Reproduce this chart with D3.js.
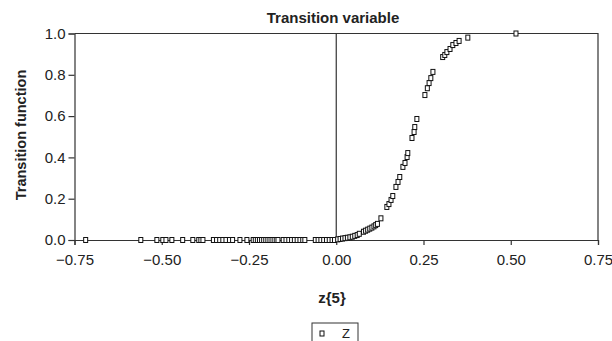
<!DOCTYPE html>
<html>
<head>
<meta charset="utf-8">
<script src="https://cdn.jsdelivr.net/npm/d3@7"></script>
<style>
  body { margin: 0; background: #fff; }
  svg text { font-family: "Liberation Sans", Arial, Helvetica, sans-serif; fill: #222; }
</style>
</head>
<body>
<div id="chart"></div>
<script>
// transition variable z{5} and the fitted transition function
const zNeg = [-0.718, -0.56, -0.514, -0.497, -0.488, -0.471, -0.44, -0.411, -0.394, -0.388, -0.382,
  -0.352, -0.343, -0.334, -0.325, -0.316, -0.306, -0.297, -0.276, -0.256,
  -0.238, -0.232, -0.226, -0.22, -0.214, -0.208, -0.202, -0.196, -0.19, -0.184, -0.178, -0.172, -0.167,
  -0.152, -0.144, -0.136, -0.128, -0.12, -0.112, -0.104, -0.096, -0.09,
  -0.06, -0.052, -0.044, -0.036, -0.028, -0.02, -0.012, -0.005];
const zPos = [0.004, 0.011, 0.018, 0.025, 0.032, 0.039, 0.046, 0.053, 0.06, 0.066,
  0.078, 0.084, 0.09, 0.096, 0.102, 0.108, 0.113, 0.118, 0.128,
  0.145, 0.151, 0.157, 0.162, 0.171, 0.177, 0.182, 0.191, 0.197, 0.203, 0.205,
  0.217, 0.223, 0.225, 0.231,
  0.254, 0.261, 0.266, 0.271, 0.277,
  0.305, 0.311, 0.317, 0.326, 0.334, 0.343, 0.352, 0.377, 0.515];
const fPos = [0.003, 0.005, 0.007, 0.009, 0.011, 0.013, 0.016, 0.02, 0.024, 0.03,
  0.04, 0.045, 0.05, 0.055, 0.06, 0.066, 0.072, 0.078, 0.105,
  0.16, 0.174, 0.194, 0.213, 0.257, 0.281, 0.305, 0.354, 0.373, 0.402, 0.421,
  0.494, 0.523, 0.547, 0.586,
  0.702, 0.735, 0.76, 0.784, 0.814,
  0.886, 0.896, 0.91, 0.925, 0.944, 0.954, 0.964, 0.98, 1.0];
const xTicks = [-0.75, -0.5, -0.25, 0, 0.25, 0.5, 0.75];
const yTicks = [0, 0.2, 0.4, 0.6, 0.8, 1.0];
const title = 'Transition variable';
const xTitle = 'z{5}';
const yTitle = 'Transition function';
const seriesName = 'Z';

const points = zNeg.map(z => ({z: z, f: 0}))
  .concat(zPos.map((z, i) => ({z: z, f: fPos[i]})));

const width = 612, height = 341;
const margin = {top: 33.5, right: 14, bottom: 101, left: 74.5};

const svg = d3.select('#chart').append('svg')
  .attr('width', width)
  .attr('height', height);

const x = d3.scaleLinear().domain([-0.75, 0.75]).range([margin.left, width - margin.right]);
const y = d3.scaleLinear().domain([0, 1]).range([height - margin.bottom, margin.top]);

const axisColor = '#333';

// frame (top and right)
svg.append('path')
  .attr('d', `M${x(-0.75)},${y(1)}H${x(0.75)}V${y(0)}`)
  .attr('fill', 'none')
  .attr('stroke', axisColor)
  .attr('stroke-width', 1.2);

// zero line
svg.append('line')
  .attr('x1', x(0)).attr('x2', x(0))
  .attr('y1', y(1)).attr('y2', y(0))
  .attr('stroke', axisColor)
  .attr('stroke-width', 1.2);

// x axis
const gx = svg.append('g')
  .attr('transform', `translate(0,${y(0)})`)
  .call(d3.axisBottom(x).tickValues(xTicks).tickSize(5).tickPadding(9)
    .tickFormat(d => d3.format('.2f')(d).replace('-', '\u2013')));
gx.selectAll('path, line').attr('stroke', axisColor).attr('stroke-width', 1.2);
gx.selectAll('text').style('font-size', '15px').attr('fill', '#222');

// y axis
const gy = svg.append('g')
  .attr('transform', `translate(${x(-0.75)},0)`)
  .call(d3.axisLeft(y).tickValues(yTicks).tickSize(6).tickPadding(3)
    .tickFormat(d3.format('.1f')));
gy.selectAll('path, line').attr('stroke', axisColor).attr('stroke-width', 1.2);
gy.selectAll('text').style('font-size', '15px').attr('fill', '#222');

// markers
svg.append('g')
  .selectAll('rect')
  .data(points)
  .enter()
  .append('rect')
  .attr('x', d => x(d.z) - 2)
  .attr('y', d => y(d.f) - 2.5)
  .attr('width', 4)
  .attr('height', 5)
  .attr('fill', '#fff')
  .attr('stroke', '#111')
  .attr('stroke-width', 1);

// titles
svg.append('text')
  .text(title)
  .attr('x', 333)
  .attr('y', 23)
  .attr('text-anchor', 'middle')
  .style('font-size', '15px')
  .style('font-weight', 'bold');

svg.append('text')
  .text(yTitle)
  .attr('transform', 'translate(26,135) rotate(-90)')
  .attr('text-anchor', 'middle')
  .style('font-size', '14.5px')
  .style('font-weight', 'bold');

svg.append('text')
  .text(xTitle)
  .attr('x', 332)
  .attr('y', 303)
  .attr('text-anchor', 'middle')
  .style('font-size', '15px')
  .style('font-weight', 'bold');

// legend
const lg = svg.append('g').attr('transform', 'translate(312,323)');
lg.append('rect')
  .attr('width', 46)
  .attr('height', 30)
  .attr('fill', 'none')
  .attr('stroke', axisColor)
  .attr('stroke-width', 1);
lg.append('rect')
  .attr('x', 8).attr('y', 8)
  .attr('width', 4).attr('height', 5)
  .attr('fill', '#fff')
  .attr('stroke', '#111');
lg.append('text')
  .text(seriesName)
  .attr('x', 30)
  .attr('y', 15)
  .style('font-size', '13px');
</script>
</body>
</html>
